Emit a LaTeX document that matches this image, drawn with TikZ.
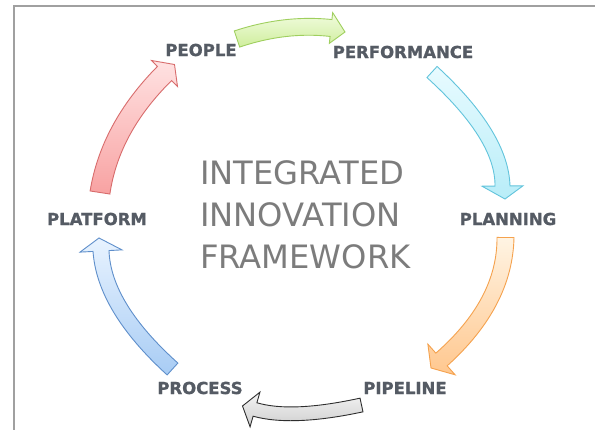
\documentclass[tikz,border=0pt]{standalone}
\usepackage{fontspec}
\setmainfont{DejaVu Sans}
\newfontfamily\lblfont[FakeBold=1.2]{DejaVu Sans Bold}
\usetikzlibrary{calc}
\definecolor{labelgray}{HTML}{555B64}
\definecolor{centergray}{HTML}{7C7C7C}
\definecolor{framegray}{HTML}{A0A0A0}
\definecolor{greenline}{HTML}{9FCF5E}\definecolor{greentop}{HTML}{F2FCE0}\definecolor{greenbot}{HTML}{CFEE9C}
\definecolor{cyanline}{HTML}{62C4DC}\definecolor{cyantop}{HTML}{E8FBFF}\definecolor{cyanbot}{HTML}{B8EDF8}
\definecolor{orangeline}{HTML}{F5A24E}\definecolor{orangetop}{HTML}{FFF4E3}\definecolor{orangebot}{HTML}{FFC78E}
\definecolor{grayline}{HTML}{2E2E2E}\definecolor{graytop}{HTML}{F4F4F4}\definecolor{graybot}{HTML}{CFCFCF}
\definecolor{blueline}{HTML}{5F8FCB}\definecolor{bluetop}{HTML}{E8F3FF}\definecolor{bluebot}{HTML}{A8CCF4}
\definecolor{redline}{HTML}{D86C6C}\definecolor{redtop}{HTML}{FFE2E2}\definecolor{redbot}{HTML}{F8A2A2}
% #1 tail centre, #2 bend control, #3 head-base centre, #4 tip, #5 half body width, #6 half head width, #7 style
\newcommand\blockarr[7]{%
  \coordinate (T) at #1; \coordinate (C) at #2; \coordinate (B) at #3; \coordinate (P) at #4;
  \coordinate (TL) at ($(T)!#5!90:(C)$);
  \coordinate (TR) at ($(T)!#5!-90:(C)$);
  \coordinate (BL) at ($(B)!#5!-90:(C)$);
  \coordinate (BR) at ($(B)!#5!90:(C)$);
  \coordinate (HL) at ($(B)!#6!-90:(C)$);
  \coordinate (HR) at ($(B)!#6!90:(C)$);
  \coordinate (off) at ($(T)!#5!90:(B)$);
  \coordinate (CL) at ($(C)+(off)-(T)$);
  \coordinate (CR) at ($(C)-(off)+(T)$);
  \draw[#7] (TL) .. controls ($(TL)!0.667!(CL)$) and ($(BL)!0.667!(CL)$) .. (BL)
     -- (HL) -- (P) -- (HR) -- (BR)
     .. controls ($(BR)!0.667!(CR)$) and ($(TR)!0.667!(CR)$) .. (TR) -- cycle;
}
\begin{document}
\begin{tikzpicture}[x=1pt,y=-1pt,
  lbl/.style={font=\lblfont\fontsize{16.5}{18}\selectfont, text=labelgray, inner sep=0pt},
  arr/.style={line width=0.9pt, line join=miter},
  greenarr/.style={arr, draw=greenline, top color=greentop, bottom color=greenbot},
  cyanarr/.style={arr, draw=cyanline, top color=cyantop, bottom color=cyanbot},
  orangearr/.style={arr, draw=orangeline, top color=orangetop, bottom color=orangebot},
  grayarr/.style={arr, draw=grayline, top color=graytop, bottom color=graybot},
  bluearr/.style={arr, draw=blueline, top color=bluetop, bottom color=bluebot},
  redarr/.style={arr, draw=redline, top color=redtop, bottom color=redbot},
]
\useasboundingbox (0,0) rectangle (595,430);
\fill[white] (0,0) rectangle (595,430);
\draw[framegray, line width=1.6pt] (14,430) -- (14,6) -- (595,6);

% arrows
\blockarr{(237,39)}{(285,23)}{(331,28)}{(345,32)}{8.5pt}{15.5pt}{greenarr}
\blockarr{(432,72)}{(502,136)}{(502.5,186)}{(505,199)}{7.5pt}{20.5pt}{cyanarr}
\blockarr{(505.5,237.5)}{(505,303)}{(441.5,359.5)}{(431,368)}{8.5pt}{20.5pt}{orangearr}
\blockarr{(361.5,405)}{(292,420)}{(255,409.5)}{(242.5,406)}{7pt}{18pt}{grayarr}
\blockarr{(172.5,369)}{(104,307)}{(101,251)}{(99,238)}{8pt}{21pt}{bluearr}
\blockarr{(100,192.5)}{(110,128)}{(164.5,73.5)}{(174.5,64.5)}{10pt}{18.4pt}{redarr}

% labels
\node[lbl] (people) at (201,50) {PEOPLE};
\node[lbl] (performance) at (403,52) {PERFORMANCE};
\node[lbl] (planning) at (508,219) {PLANNING};
\node[lbl] (pipeline) at (405,388) {PIPELINE};
\node[lbl] (process) at (200,388) {PROCESS};
\node[lbl] (platform) at (97,219) {PLATFORM};

\node[anchor=west, align=left, inner sep=0pt, text=centergray,
      font=\fontsize{32.2}{42}\selectfont] (title) at (200,214.5)
  {INTEGRATED\\INNOVATION\\FRAMEWORK};
\end{tikzpicture}
\end{document}
